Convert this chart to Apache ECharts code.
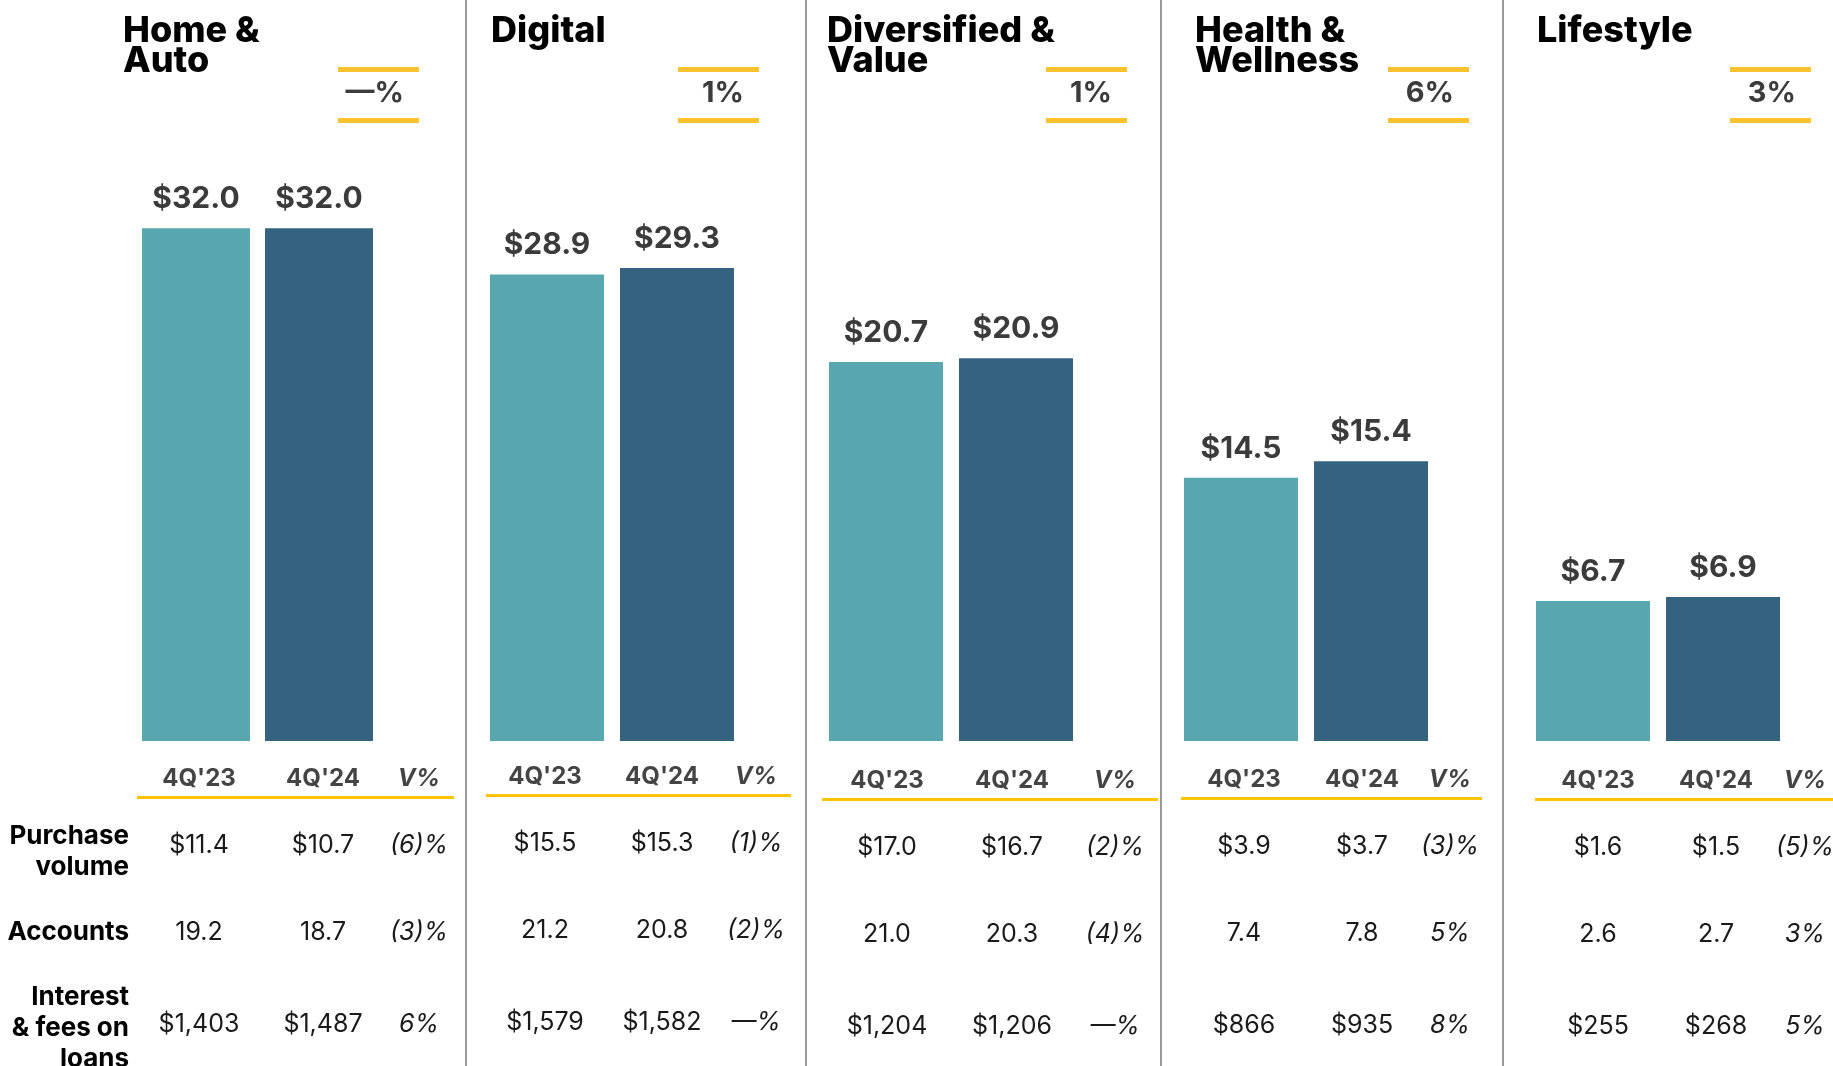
<!DOCTYPE html>
<html>
<head>
<meta charset="utf-8">
<script src="https://cdn.jsdelivr.net/npm/echarts@6/dist/echarts.min.js"></script>
<style>
  html, body { margin: 0; padding: 0; background: #fff; }
  #main { width: 1833px; height: 1066px; }
</style>
</head>
<body>
<div id="main"></div>
<script>
// platforms and periods
const panels = ['Home &\nAuto', 'Digital', 'Diversified &\nValue', 'Health &\nWellness', 'Lifestyle'];
const periods = ["4Q'23", "4Q'24"];

// period-end loan receivables ($B)
const balance23 = [32.0, 28.9, 20.7, 14.5, 6.7];
const balance24 = [32.0, 29.3, 20.9, 15.4, 6.9];
const balanceChg = [0, 1, 1, 6, 3];

// table rows
const rowLabels = ['Purchase\nvolume', 'Accounts', 'Interest\n& fees on\nloans'];
const purchase23 = [11.4, 15.5, 17.0, 3.9, 1.6];
const purchase24 = [10.7, 15.3, 16.7, 3.7, 1.5];
const purchaseChg = [-6, -1, -2, -3, -5];
const accounts23 = [19.2, 21.2, 21.0, 7.4, 2.6];
const accounts24 = [18.7, 20.8, 20.3, 7.8, 2.7];
const accountsChg = [-3, -2, -4, 5, 3];
const interest23 = [1403, 1579, 1204, 866, 255];
const interest24 = [1487, 1582, 1206, 935, 268];
const interestChg = [6, 0, 0, 8, 5];

// layout (pixels)
const gridLeft = [134.5, 482, 821, 1176, 1528];
const gridWidth = [246, 260, 260, 260, 260];
const barWidth = [108, 114, 114, 114, 114];
const axisMax = [40, 39.7, 35, 35.3, 30.7];
const titleX = [123, 491, 827, 1195, 1537];
const boxX = [338, 678, 1046, 1388, 1730];
const colX = [[199, 323, 419], [545, 662, 756], [887, 1012, 1115], [1244, 1362, 1450], [1598, 1716, 1805]];
const ruleX = [[137, 454], [486, 791], [822, 1158], [1181, 1482], [1535, 1833]];
const tableDy = [0, -2, 2, 1, 2];
const dividers = [466, 806, 1161, 1503];

const TEAL = '#58a7ae';
const NAVY = '#35637f';
const GOLD = '#fbc22e';
const FONT = 'Inter';

const pct = v => v === 0 ? '\u2014%' : (v < 0 ? '(' + (-v) + ')%' : v + '%');
const money1 = v => '$' + v.toFixed(1);
const moneyInt = v => '$' + v.toLocaleString('en-US');

function text(x, y, str, opts) {
  return {
    type: 'text',
    x: x, y: y,
    style: Object.assign({
      text: str,
      fontFamily: FONT,
      fontSize: 25,
      fontWeight: 'normal',
      fill: '#1a1a1a',
      align: 'center',
      verticalAlign: 'middle'
    }, opts || {})
  };
}

const chart = echarts.init(document.getElementById('main'), null, { renderer: 'canvas' });

const grids = [], xAxes = [], yAxes = [], series = [], graphics = [];

panels.forEach((name, i) => {
  grids.push({ left: gridLeft[i], width: gridWidth[i], top: 100, height: 641 });
  xAxes.push({ type: 'category', gridIndex: i, data: periods, show: false });
  yAxes.push({ type: 'value', gridIndex: i, min: 0, max: axisMax[i], show: false });
  series.push({
    type: 'bar',
    xAxisIndex: i,
    yAxisIndex: i,
    barWidth: barWidth[i],
    data: [
      { value: balance23[i], itemStyle: { color: TEAL } },
      { value: balance24[i], itemStyle: { color: NAVY } }
    ],
    label: {
      show: true,
      position: 'top',
      distance: 14,
      formatter: p => money1(p.value),
      fontFamily: FONT,
      fontSize: 30,
      fontWeight: 'bold',
      color: '#3b3b3b'
    },
    silent: true
  });

  // title
  graphics.push(text(titleX[i], 16, name, {
    align: 'left', verticalAlign: 'top',
    fontSize: 36, fontWeight: 800, fill: '#000', lineHeight: 30
  }));

  // change box
  graphics.push({ type: 'rect', shape: { x: boxX[i], y: 67, width: 81, height: 5 }, style: { fill: GOLD } });
  graphics.push({ type: 'rect', shape: { x: boxX[i], y: 118, width: 81, height: 5 }, style: { fill: GOLD } });
  graphics.push(text(boxX[i] + 66, 93, pct(balanceChg[i]), {
    align: 'right', fontSize: 29, fontWeight: 'bold', fill: '#3b3b3b'
  }));

  // table header
  const dy = tableDy[i];
  graphics.push(text(colX[i][0], 779 + dy, periods[0], { fontSize: 24, fontWeight: 'bold', fill: '#444' }));
  graphics.push(text(colX[i][1], 779 + dy, periods[1], { fontSize: 24, fontWeight: 'bold', fill: '#444' }));
  graphics.push(text(colX[i][2], 779 + dy, 'V%', { fontSize: 24, fontWeight: 'bold', fontStyle: 'italic', fill: '#444' }));
  graphics.push({
    type: 'rect',
    shape: { x: ruleX[i][0], y: 796 + dy, width: ruleX[i][1] - ruleX[i][0], height: 3 },
    style: { fill: '#fcc400' }
  });

  // table rows
  const rows = [
    [money1(purchase23[i]), money1(purchase24[i]), pct(purchaseChg[i]), 845],
    [accounts23[i].toFixed(1), accounts24[i].toFixed(1), pct(accountsChg[i]), 932],
    [moneyInt(interest23[i]), moneyInt(interest24[i]), pct(interestChg[i]), 1024]
  ];
  rows.forEach(r => {
    graphics.push(text(colX[i][0], r[3] + dy, r[0]));
    graphics.push(text(colX[i][1], r[3] + dy, r[1]));
    graphics.push(text(colX[i][2], r[3] + dy, r[2], { fontStyle: 'italic' }));
  });
});

// row labels
const labelStyle = { align: 'right', fontWeight: 'bold', fontSize: 26, fill: '#000', lineHeight: 31 };
graphics.push(text(129, 852, rowLabels[0], labelStyle));
graphics.push(text(129, 932, rowLabels[1], labelStyle));
graphics.push(text(129, 1028, rowLabels[2], labelStyle));

// panel dividers
dividers.forEach(x => {
  graphics.push({
    type: 'line',
    shape: { x1: x, y1: 0, x2: x, y2: 1066 },
    style: { stroke: '#9a9a9a', lineWidth: 2 }
  });
});

chart.setOption({
  animation: false,
  backgroundColor: '#ffffff',
  grid: grids,
  xAxis: xAxes,
  yAxis: yAxes,
  series: series,
  graphic: { elements: graphics }
});
</script>
</body>
</html>
